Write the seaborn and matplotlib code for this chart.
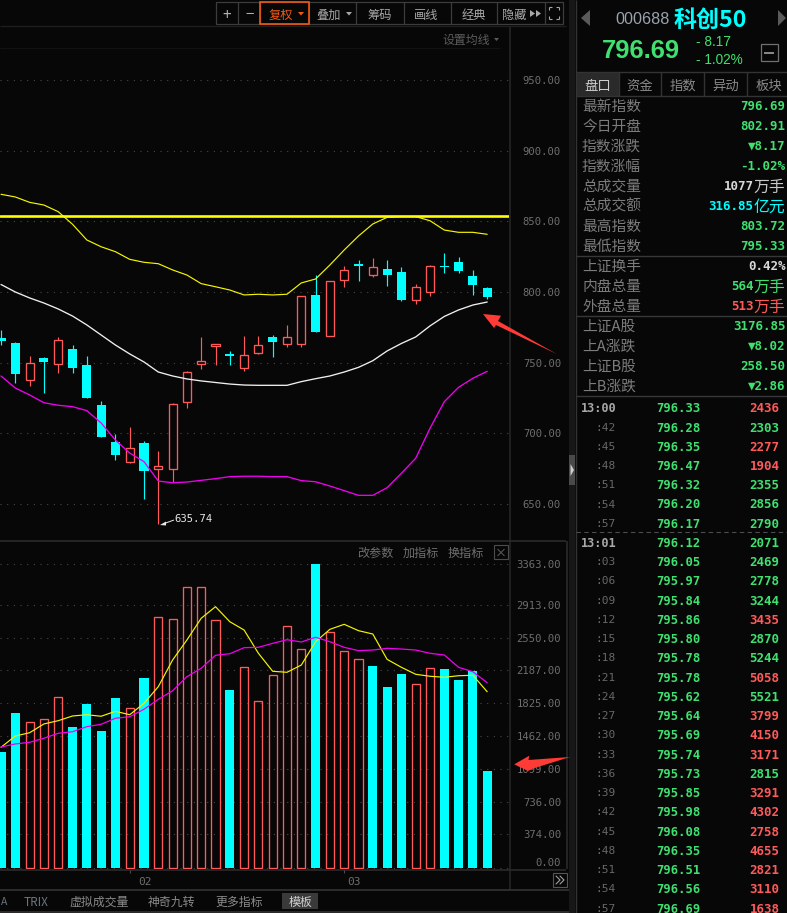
import numpy as np
import pandas as pd
import seaborn as sns
import matplotlib.pyplot as plt
from matplotlib.patches import Polygon, Rectangle

BG = '#070707'
CYAN = '#00ffff'
RED = '#ff5a5a'
GREEN = '#40e070'
GRID = '#484848'
GREY = '#6e6e6e'
LINE = '#2e2e2e'

# daily candles
c_open = [767.5, 763.9, 738.0, 753.3, 748.9, 759.7, 748.4, 720.1, 693.9, 680.0, 693.2, 674.8,
          675.0, 722.4, 749.3, 761.8, 756.2, 746.5, 757.1, 768.2, 763.4, 763.4, 797.9, 769.1,
          808.7, 819.6, 812.2, 816.3, 814.1, 794.6, 800.2, 818.4, 821.2, 811.3, 802.91]
c_close = [765.3, 742.2, 749.6, 750.5, 765.8, 746.3, 725.0, 697.7, 684.7, 689.5, 673.6, 676.7,
           720.6, 743.2, 751.0, 763.2, 754.7, 755.2, 762.3, 764.6, 768.0, 797.0, 771.9, 807.6,
           815.3, 818.4, 817.5, 812.0, 794.3, 803.3, 818.2, 817.7, 814.9, 805.0, 796.69]
c_high = [773.1, 764.9, 754.7, 753.8, 768.4, 762.5, 754.7, 722.9, 699.6, 704.5, 694.4, 687.6,
          721.3, 744.1, 768.2, 763.2, 758.3, 768.9, 768.9, 769.6, 776.7, 797.0, 812.0, 807.6,
          818.6, 822.6, 824.0, 822.6, 817.7, 805.7, 819.1, 827.8, 824.8, 815.6, 803.72]
c_low = [762.5, 735.9, 733.5, 728.8, 742.9, 742.9, 725.0, 697.2, 681.2, 679.3, 653.8, 635.74,
         665.6, 718.2, 745.8, 748.6, 748.4, 744.3, 756.4, 754.2, 761.3, 761.3, 771.9, 769.1,
         803.7, 807.8, 810.6, 804.2, 793.9, 791.5, 797.2, 813.6, 813.6, 797.9, 795.33]

boll_up = [869.1, 867.2, 863.4, 861.5, 856.8, 847.9, 836.8, 832.0, 828.5, 823.1, 821.0, 820.0,
           815.6, 812.0, 805.9, 803.7, 801.4, 797.9, 798.4, 797.9, 798.4, 806.4, 809.2, 819.1,
           829.7, 839.6, 848.1, 852.8, 853.3, 853.3, 850.4, 843.8, 842.2, 842.2, 840.8]
boll_mid = [805.3, 800.0, 795.8, 792.2, 788.0, 783.0, 776.7, 769.6, 762.5, 756.2, 750.5, 743.4,
            740.6, 738.5, 737.1, 736.0, 734.9, 734.2, 734.0, 734.0, 734.0, 736.6, 738.7, 740.6,
            743.4, 746.7, 751.4, 758.3, 763.6, 768.2, 776.0, 782.7, 787.3, 790.8, 792.9]
boll_low = [740.6, 732.1, 727.2, 721.7, 719.9, 718.9, 716.1, 707.4, 695.3, 686.1, 680.0, 666.3,
            665.1, 665.6, 666.8, 668.0, 669.4, 669.7, 669.7, 669.4, 669.4, 666.6, 665.8, 662.8,
            659.5, 656.2, 656.2, 661.6, 671.8, 682.4, 703.6, 722.4, 732.6, 739.0, 743.9]
hline_price = 853.7

volume = [1285, 1716, 1613, 1646, 1890, 1561, 1815, 1517, 1882, 1768, 2103, 2773, 2751, 3105, 3105,
          2740, 1970, 2221, 1845, 2133, 2674, 2420, 3363, 2608, 2398, 2309, 2235, 2003, 2147, 2033,
          2210, 2202, 2081, 2180, 1075]
vol_up = [0, 0, 1, 1, 1, 0, 0, 0, 0, 1, 0, 1, 1, 1, 1, 1, 0, 1, 1, 1, 1, 1, 0, 1, 1, 1, 0, 0, 0, 1,
          1, 0, 0, 0, 0]
vol_ma1 = [1337, 1462, 1498, 1595, 1631, 1683, 1697, 1680, 1735, 1697, 1823, 2007, 2302, 2523, 2763,
           2891, 2725, 2633, 2376, 2177, 2166, 2246, 2504, 2641, 2696, 2626, 2589, 2309, 2221, 2144,
           2122, 2111, 2128, 2133, 1951]
vol_ma2 = [1340, 1374, 1392, 1437, 1492, 1509, 1565, 1591, 1658, 1675, 1757, 1867, 1962, 2117, 2210,
           2354, 2371, 2438, 2442, 2486, 2526, 2501, 2553, 2504, 2442, 2405, 2412, 2431, 2423, 2412,
           2376, 2357, 2221, 2172, 2051]

price_ticks = [650, 700, 750, 800, 850, 900, 950]
vol_ticks = [0, 374, 736, 1099, 1462, 1825, 2187, 2550, 2913, 3363]

quote_labels = ['最新指数', '今日开盘', '指数涨跌', '指数涨幅', '总成交量', '总成交额', '最高指数', '最低指数',
                '上证换手', '内盘总量', '外盘总量', '上证A股', '上A涨跌', '上证B股', '上B涨跌']
quote_values = ['796.69', '802.91', '▼8.17', '-1.02%', '1077', '316.85', '803.72', '795.33',
                '0.42%', '564', '513', '3176.85', '▼8.02', '258.50', '▼2.86']
quote_units = ['', '', '', '', '万手', '亿元', '', '', '', '万手', '万手', '', '', '', '']
quote_colors = [GREEN, GREEN, GREEN, GREEN, '#d8d8d8', CYAN, GREEN, GREEN,
                '#d8d8d8', GREEN, RED, GREEN, GREEN, GREEN, GREEN]
quote_rows = [105, 125, 145, 165, 185, 205, 225, 245, 265, 285, 305, 325, 345, 365, 385]

tick_times = ['13:00', ':42', ':45', ':48', ':51', ':54', ':57', '13:01', ':03', ':06', ':09', ':12', ':15',
              ':18', ':21', ':24', ':27', ':30', ':33', ':36', ':39', ':42', ':45', ':48', ':51', ':54', ':57']
tick_prices = ['796.33', '796.28', '796.35', '796.47', '796.32', '796.20', '796.17', '796.12', '796.05',
               '795.97', '795.84', '795.86', '795.80', '795.78', '795.78', '795.62', '795.64', '795.69',
               '795.74', '795.73', '795.85', '795.98', '796.08', '796.35', '796.51', '796.56', '796.69']
tick_vols = [2436, 2303, 2277, 1904, 2355, 2856, 2790, 2071, 2469, 2778, 3244, 3435, 2870, 5244, 5058,
             5521, 3799, 4150, 3171, 2815, 3291, 4302, 2758, 4655, 2821, 3110, 1638]
tick_up = [1, 0, 1, 1, 0, 0, 0, 0, 0, 0, 0, 1, 0, 0, 1, 0, 1, 1, 1, 0, 1, 1, 1, 1, 1, 1, 1]

sns.set_theme(style='dark', rc={'figure.facecolor': BG, 'axes.facecolor': BG, 'savefig.facecolor': BG})
plt.rcParams['font.family'] = ['Noto Sans CJK SC', 'DejaVu Sans']
CJK = ['Noto Sans CJK SC', 'DejaVu Sans']
MONO = ['DejaVu Sans Mono', 'Noto Sans CJK SC']

W, H = 787, 913
fig = plt.figure(figsize=(W / 100, H / 100), dpi=100)


def px_axes(x0, y0, x1, y1):
    return fig.add_axes([x0 / W, 1 - y1 / H, (x1 - x0) / W, (y1 - y0) / H])


idx = np.arange(len(volume))
xlim = (-1 / 14.3, 508 / 14.3)

# price panel
ax1 = px_axes(0, 27, 509, 541)
for i in idx:
    up = c_close[i] >= c_open[i]
    col = RED if up else CYAN
    ax1.vlines(i, c_low[i], c_high[i], color=col, lw=0.85, zorder=2)
    lo, hi = min(c_open[i], c_close[i]), max(c_open[i], c_close[i])
    if up:
        ax1.bar(i, hi - lo, bottom=lo, width=0.56, facecolor=BG, edgecolor=col, linewidth=0.95, zorder=3)
    else:
        ax1.bar(i, hi - lo, bottom=lo, width=0.63, color=col, linewidth=0, zorder=3)
sns.lineplot(x=idx, y=boll_up, color='#f5f500', lw=0.85, ax=ax1, zorder=4)
sns.lineplot(x=idx, y=boll_mid, color='#f0f0f0', lw=0.95, ax=ax1, zorder=4)
sns.lineplot(x=idx, y=boll_low, color='#f000f0', lw=0.95, ax=ax1, zorder=4)
ax1.axhline(hline_price, color='#ffff00', lw=1.9, zorder=5)
ax1.set_xlim(xlim)
ax1.set_ylim(623.9, 987.4)
ax1.set_xticks([])
ax1.set_yticks(price_ticks, [f'{v:.2f}' for v in price_ticks], family=MONO)
ax1.yaxis.tick_right()
ax1.tick_params(axis='y', length=0, pad=37.5, labelsize=7.6, labelcolor=GREY)
for lab in ax1.get_yticklabels():
    lab.set_ha('right')
ax1.grid(axis='y', color=GRID, lw=0.8, ls=(0, (1, 5)))
sns.despine(ax=ax1, left=True, bottom=True, right=True, top=True)

# volume panel
ax2 = px_axes(0, 541, 509, 869)
vol_df = pd.DataFrame({'i': idx, 'vol': volume, 'up': vol_up})
sns.barplot(data=vol_df[vol_df.up == 0], x='i', y='vol', native_scale=True, color=CYAN, saturation=1,
            width=0.63, errorbar=None, linewidth=0, ax=ax2, zorder=3)
sns.barplot(data=vol_df[vol_df.up == 1], x='i', y='vol', native_scale=True, color=RED, saturation=1,
            width=0.56, errorbar=None, fill=False, linewidth=0.95, ax=ax2, zorder=3)
sns.lineplot(x=idx, y=vol_ma1, color='#f5f500', lw=0.85, ax=ax2, zorder=4)
sns.lineplot(x=idx, y=vol_ma2, color='#f000f0', lw=0.9, ax=ax2, zorder=4)
ax2.set_xlim(xlim)
ax2.set_ylim(-8, 3617)
ax2.set_xticks([])
ax2.set_xlabel('')
ax2.set_ylabel('')
ax2.set_yticks(vol_ticks, [f'{v:.2f}' for v in vol_ticks], family=MONO)
ax2.yaxis.tick_right()
ax2.tick_params(axis='y', length=0, pad=37.5, labelsize=7.6, labelcolor=GREY)
for lab in ax2.get_yticklabels():
    lab.set_ha('right')
ax2.get_yticklabels()[0].set_va('bottom')  # the 0.00 label sits above its line
ax2.grid(axis='y', color=GRID, lw=0.8, ls=(0, (1, 5)))
sns.despine(ax=ax2, left=True, bottom=True, right=True, top=True)

# window chrome on a pixel canvas
ov = fig.add_axes([0, 0, 1, 1], zorder=10)
ov.set_xlim(0, W)
ov.set_ylim(H, 0)
ov.axis('off')
ov.patch.set_alpha(0)


def txt(x, y, s, color=GREY, size=8.6, ha='left', family=CJK, weight='normal'):
    ov.text(x, y, s, color=color, fontsize=size, ha=ha, va='center_baseline', family=family, weight=weight)


def line(x0, y0, x1, y1, color=LINE, lw=1.0, ls='-'):
    ov.plot([x0, x1], [y0, y1], color=color, lw=lw, ls=ls, solid_capstyle='butt')


# panel frames
line(509.5, 27, 509.5, 890, '#262626', 1.2)
line(566.5, 541, 566.5, 869, '#2a2a2a', 1.2)
line(0, 541, 566, 541, '#2a2a2a', 1.2)
line(0, 870, 566, 870, '#2a2a2a', 1.2)
line(0, 26, 566, 26, '#1e1e1e', 1.0)
line(0, 48.5, 500, 48.5, '#121212', 0.8)
line(0, 890, 569, 890, '#333333', 1.2)
line(0, 912, 569, 912, '#333333', 1.2)
ov.add_patch(Rectangle((569, 0), 6, H, color='#171717', lw=0))
ov.add_patch(Rectangle((569, 455), 6, 30, color='#4a4a4a', lw=0))
ov.add_patch(Polygon([(570.5, 464), (570.5, 476), (574, 470)], color='#cfcfcf', lw=0))
line(575.5, 0, 575.5, H, '#333333', 1.0)

# toolbar
tb = [216, 238, 260, 309, 356, 404, 451, 497, 545, 563]
ov.add_patch(Rectangle((216, 2), 347, 22, fill=False, ec='#3c3c3c', lw=0.9))
for x in tb[1:-1]:
    line(x, 2, x, 24, '#3c3c3c', 0.9)
txt(227, 13, '+', '#b0b0b0', 11, 'center')
txt(250, 13, '−', '#b0b0b0', 11, 'center')
ov.add_patch(Rectangle((260, 2), 49, 22, fill=False, ec='#f05a14', lw=1.2, zorder=3))
txt(269, 13.5, '复权', '#f05a14', 8.8)
txt(316, 13.5, '叠加', '#a8a8a8', 8.8)
txt(367, 13.5, '筹码', '#a8a8a8', 8.8)
txt(414, 13.5, '画线', '#a8a8a8', 8.8)
txt(462, 13.5, '经典', '#a8a8a8', 8.8)
txt(502, 13.5, '隐藏', '#a8a8a8', 8.8)
ov.add_patch(Polygon([(298, 12), (304, 12), (301, 15.5)], color='#f05a14', lw=0))
ov.add_patch(Polygon([(346, 12), (352, 12), (349, 15.5)], color='#a8a8a8', lw=0))
for x in (530, 536):
    ov.add_patch(Polygon([(x, 10), (x, 17), (x + 5, 13.5)], color='#a8a8a8', lw=0))
for (x, y, dx, dy) in [(549, 7, 1, 1), (559, 7, -1, 1), (549, 19, 1, -1), (559, 19, -1, -1)]:
    line(x, y, x + 3 * dx, y, '#a8a8a8', 0.8)
    line(x, y, x, y + 3 * dy, '#a8a8a8', 0.8)
txt(442, 38.5, '设置均线', '#5c5c5c', 8.6)
ov.add_patch(Polygon([(494, 38), (499, 38), (496.5, 41)], color='#5c5c5c', lw=0))

# low point callout
txt(174, 517.5, '635.74', '#e8e8e8', 7.6, family=MONO)
line(163, 524, 174, 520, '#e8e8e8', 0.7)
ov.add_patch(Polygon([(160, 525), (166, 521.5), (166, 525.5)], color='#e8e8e8', lw=0))

# indicator toolbar
txt(357, 552, '改参数', GREY, 8.7)
txt(403, 552, '加指标', GREY, 8.7)
txt(448, 552, '换指标', GREY, 8.7)
ov.add_patch(Rectangle((494, 545.5), 14, 14, fill=False, ec='#4c4c4c', lw=0.8))
line(497.5, 549, 504.5, 556, '#5c5c5c', 0.7)
line(504.5, 549, 497.5, 556, '#5c5c5c', 0.7)

# bottom strip
txt(138, 881, '02', GREY, 8.0, family=MONO)
txt(347, 881, '03', GREY, 8.0, family=MONO)
line(130, 870, 130, 873, '#4c4c4c', 0.8)
line(344, 870, 344, 873, '#4c4c4c', 0.8)
ov.add_patch(Rectangle((553, 873), 13.5, 14, fill=False, ec='#555555', lw=0.8))
for x in (556, 560):
    ov.plot([x, x + 4, x], [876, 880, 884], color='#a0a0a0', lw=0.8)
txt(0.5, 901, 'A', '#6a7480', 7.5)
txt(24, 901, 'TRIX', '#6a7480', 8.5)
txt(69, 901, '虚拟成交量', '#8a8a8a', 8.6)
txt(148, 901, '神奇九转', '#8a8a8a', 8.6)
txt(215, 901, '更多指标', '#8a8a8a', 8.6)
ov.add_patch(Rectangle((282, 893), 36, 16, color='#3a3a3a', lw=0))
txt(289, 901, '模板', '#d0d0d0', 8.6)

# drawn arrows
ov.add_patch(Polygon([(483, 314), (501, 315.7), (498, 321), (556.7, 354), (496, 325), (494, 328)],
                     color='#ff3b36', lw=0, zorder=6))
ov.add_patch(Polygon([(514.3, 764.3), (529.3, 755.7), (528.5, 760), (570, 757), (533, 768.5), (528, 771)],
                     color='#ff3b36', lw=0, zorder=6))

# right side header
ov.add_patch(Polygon([(581, 18), (590, 10), (590, 26)], color='#5a5a5a', lw=0))
ov.add_patch(Polygon([(786, 18), (778, 10), (778, 26)], color='#5a5a5a', lw=0))
txt(615, 18, '000688', '#9aa4ae', 11.6, family=['Liberation Sans'])
txt(674, 18, '科创50', CYAN, 16.6, weight='bold')
txt(602, 49, '796.69', GREEN, 18.4, family=['Liberation Sans'], weight='bold')
txt(696, 41, '- 8.17', GREEN, 9.8, family=['Liberation Sans'])
txt(696, 58.5, '- 1.02%', GREEN, 9.8, family=['Liberation Sans'])
ov.add_patch(Rectangle((760.5, 44.5), 17, 17, fill=False, ec='#707070', lw=0.9))
line(764, 53, 774, 53, '#8a8a8a', 1.4)

# tabs
line(576, 72, W, 72, '#333333', 1.0)
line(576, 96, W, 96, '#333333', 1.0)
ov.add_patch(Rectangle((576, 72), 43, 24, color='#2a2a2a', lw=0))
for x, name in zip([598, 640, 683, 726, 769], ['盘口', '资金', '指数', '异动', '板块']):
    txt(x, 84.5, name, '#d0d0d0' if name == '盘口' else '#8a8a8a', 9.6, 'center')
for x in [619, 661, 704, 747]:
    line(x, 72, x, 96, '#333333', 1.0)

# quote table
for y in (256, 316, 396):
    line(576, y, W, y, '#383838', 1.0)
for label, val, unit, col, y in zip(quote_labels, quote_values, quote_units, quote_colors, quote_rows):
    txt(582, y, label, '#7c7c7c', 10.6)
    if unit:
        ucol = {RED: RED, CYAN: CYAN, GREEN: GREEN}.get(col, '#c8c8c8')
        txt(785.5, y, unit, ucol, 11.4, 'right')
        txt(753.5, y, val, col, 9.0, 'right', family=MONO, weight='bold')
    else:
        txt(785.5, y, val, col, 9.0, 'right', family=MONO, weight='bold')

# tick list
line(576, 532, W, 532, '#4c4c4c', 0.8, (0, (4, 3)))
for n, (tm, pr, vo, up) in enumerate(zip(tick_times, tick_prices, tick_vols, tick_up)):
    y = 407.3 + 19.24 * n
    if len(tm) > 3:
        txt(616, y, tm, '#a8a8a8', 8.6, 'right', family=MONO, weight='bold')
    else:
        txt(616, y, tm, '#686868', 8.0, 'right', family=MONO)
    txt(656, y, pr, GREEN, 8.8, family=MONO, weight='bold')
    txt(779.5, y, str(vo), RED if up else GREEN, 9.0, 'right', family=MONO, weight='bold')

fig.savefig('out.png', dpi=100, facecolor=BG)
